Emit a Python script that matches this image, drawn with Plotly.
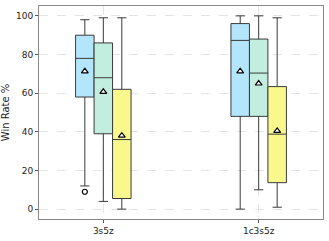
import plotly.graph_objects as go

categories = ["3s5z", "1c3s5z"]
series_names = ["A", "B", "C"]
colors = ["#b3e5fc", "#c2eee0", "#f8f88c"]

# per series: values for [3s5z, 1c3s5z]
lower = [[12, 0], [4, 10], [0, 1]]
q1 = [[58, 48], [39, 48], [5.5, 13.7]]
median = [[78, 87.3], [68, 70.4], [36, 38.8]]
q3 = [[90, 96], [86, 88], [62, 63.4]]
upper = [[98, 100], [99, 100], [99, 99]]
means = [[71.3, 71.3], [60.7, 65], [38, 40.5]]
outliers_x = [0]       # series index 0, category 0
outliers_y = [9]

offsets = [-0.119, 0.0, 0.119]
bw = 0.119

fig = go.Figure()
for i in range(3):
    xs = [c + offsets[i] for c in range(len(categories))]
    fig.add_trace(go.Box(
        x=xs, q1=q1[i], median=median[i], q3=q3[i],
        lowerfence=lower[i], upperfence=upper[i],
        width=bw, fillcolor=colors[i],
        line=dict(color="#3a3a3a", width=1),
        whiskerwidth=0.5, boxpoints=False, showlegend=False,
        hoverinfo="skip",
    ))
    fig.add_trace(go.Scatter(
        x=xs, y=means[i], mode="markers", showlegend=False,
        marker=dict(symbol="triangle-up", size=6, color="white",
                    line=dict(color="black", width=1.2)),
    ))

fig.add_trace(go.Scatter(
    x=[c + offsets[0] for c in outliers_x], y=outliers_y, mode="markers",
    showlegend=False,
    marker=dict(symbol="circle-open", size=5, color="black",
                line=dict(width=1.2)),
))

fig.update_layout(
    width=329, height=241,
    margin=dict(l=36, r=6, t=5, b=21),
    paper_bgcolor="white", plot_bgcolor="white",
    font=dict(family="DejaVu Sans", size=9, color="#222"),
)
fig.update_xaxes(
    range=[-0.414, 1.414], tickvals=[0, 1], ticktext=categories,
    showgrid=True, gridcolor="#e4e4e4", griddash="dash", gridwidth=1,
    zeroline=False, showline=True, linecolor="#888", mirror=True,
    ticks="outside", ticklen=3, tickcolor="#555",
)
fig.update_yaxes(
    range=[-5.1, 105.1], tickvals=[0, 20, 40, 60, 80, 100],
    showgrid=True, gridcolor="#e4e4e4", griddash="dash", gridwidth=1,
    zeroline=False, showline=True, linecolor="#888", mirror=True,
    ticks="outside", ticklen=3, tickcolor="#555",
    title=dict(text="Win Rate %", font=dict(size=10), standoff=4),
)

fig.write_html("out.html", config={"displayModeBar": False},
               post_script="document.body.style.margin='0';document.body.style.overflow='hidden';")
